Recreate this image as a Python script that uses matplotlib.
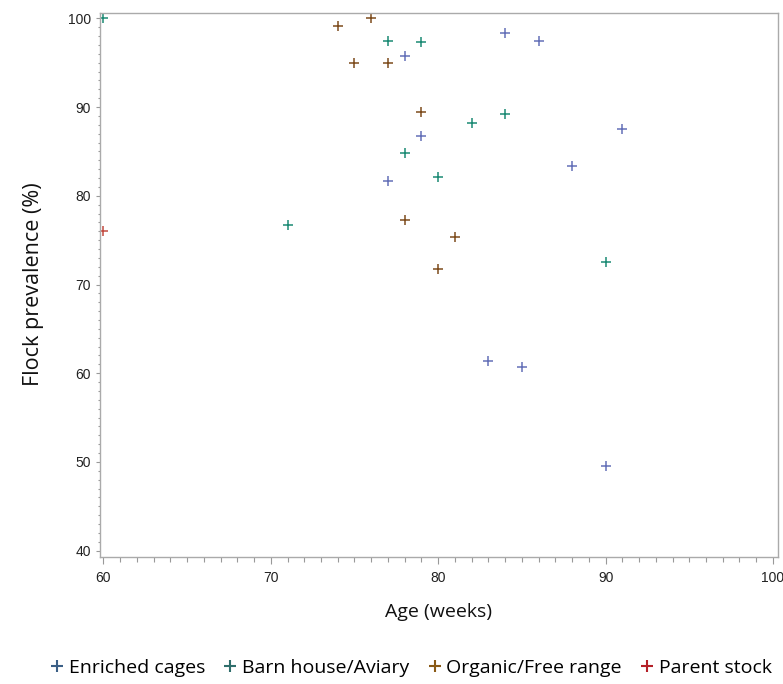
import matplotlib

matplotlib.use("Agg")
import matplotlib.pyplot as plt
from matplotlib.lines import Line2D
from matplotlib.ticker import MultipleLocator

# values
enriched_age = [77, 78, 79, 84, 86, 91, 88, 83, 85, 90]
enriched_prev = [81.7, 95.8, 86.7, 98.3, 97.4, 87.5, 83.3, 61.4, 60.7, 49.6]

barn_age = [60, 71, 77, 79, 78, 80, 82, 84, 90]
barn_prev = [100.0, 76.7, 97.4, 97.3, 84.8, 82.1, 88.2, 89.2, 72.5]

organic_age = [74, 76, 75, 77, 79, 78, 81, 80]
organic_prev = [99.1, 100.0, 95.0, 95.0, 89.4, 77.3, 75.4, 71.7]

parent_age = [60]
parent_prev = [76.0]

groups = ["Enriched cages", "Barn house/Aviary", "Organic/Free range", "Parent stock"]
point_colors = ["#6470b8", "#1b8a74", "#7d4c1c", "#c24a40"]
legend_colors = ["#3b5f86", "#2f6e6c", "#8a5a16", "#b42028"]

tick_font = ["Liberation Sans Narrow", "Liberation Sans", "DejaVu Sans"]
label_font = ["Open Sans", "DejaVu Sans"]

fig = plt.figure(figsize=(7.83, 6.84), dpi=100)
ax = fig.add_axes([0.1271, 0.1857, 0.8665, 0.7953])

series = [
    (enriched_age, enriched_prev),
    (barn_age, barn_prev),
    (organic_age, organic_prev),
    (parent_age, parent_prev),
]
for (x, y), name, c in zip(series, groups, point_colors):
    ax.scatter(x, y, marker="+", s=55, linewidths=1.1, color=c, label=name)

ax.set_xlim(59.77, 100.3)
ax.set_ylim(39.29, 100.6)
ax.xaxis.set_major_locator(MultipleLocator(10))
ax.xaxis.set_minor_locator(MultipleLocator(1))
ax.yaxis.set_major_locator(MultipleLocator(10))
ax.yaxis.set_minor_locator(MultipleLocator(1))

for s in ax.spines.values():
    s.set_color("#aaaaaa")
    s.set_linewidth(1.0)
ax.tick_params(which="both", color="#999999", direction="out", width=0.8,
               labelsize=10, labelcolor="#222222")
ax.tick_params(axis="x", which="major", length=5, pad=5)
ax.tick_params(axis="x", which="minor", length=3.5)
ax.tick_params(axis="y", which="major", length=3, pad=3)
ax.tick_params(axis="y", which="minor", length=1.8)
for lab in ax.get_xticklabels() + ax.get_yticklabels():
    lab.set_family(tick_font)

fig.text(0.56, 0.105, "Age (weeks)", ha="center", va="center",
         fontsize=14, family=label_font, color="#111111")
fig.text(0.043, 0.585, "Flock prevalence (%)", ha="center", va="center",
         rotation=90, fontsize=15.5, family=label_font, color="#111111")

handles = [Line2D([], [], marker="+", linestyle="none", color=c, markersize=8,
                  markeredgewidth=1.5) for c in legend_colors]
fig.legend(handles, groups, loc="center", bbox_to_anchor=(0.523, 0.023), ncol=4,
           frameon=False, handletextpad=0.1, columnspacing=0.8, handlelength=1.0,
           prop={"family": label_font, "size": 14})

fig.savefig("out.png", dpi=100)
